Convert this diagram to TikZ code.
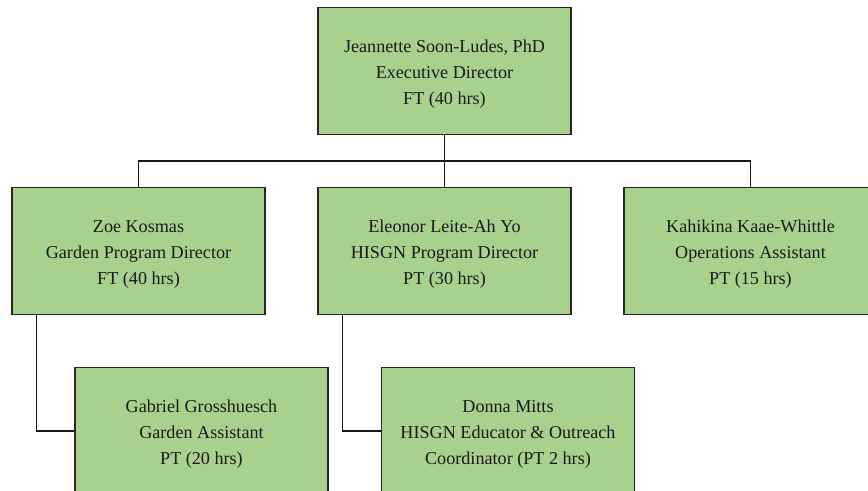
\documentclass[tikz,border=0pt]{standalone}
\usepackage{fontspec}
\setmainfont{Liberation Serif}
\usetikzlibrary{positioning}
\definecolor{boxgreen}{HTML}{A9D18E}
\tikzset{>=stealth}

\begin{document}
\begin{tikzpicture}[x=0.75pt,y=-0.75pt,
    role/.style={draw=black!85,line width=1.1pt,fill=boxgreen,text=black!90,
      minimum width=189.75pt,minimum height=95pt,inner sep=0pt,align=center,
      text height=52.8pt,font=\fontsize{13.6}{19.5}\selectfont},
    link/.style={draw=black!90,line width=1.1pt}]
\useasboundingbox (0,0) rectangle (868,491);
\clip (0,0) rectangle (868,491);
    % staff boxes
    \node[role] (ed) at (444.5,71) {Jeannette Soon-Ludes, PhD\\Executive Director\\FT (40 hrs)};
    \node[role] (zk) at (138.5,251) {Zoe Kosmas\\Garden Program Director\\FT (40 hrs)};
    \node[role] (el) at (444.5,251) {Eleonor Leite-Ah Yo\\HISGN Program Director\\PT (30 hrs)};
    \node[role] (kk) at (750.5,251) {Kahikina Kaae-Whittle\\Operations Assistant\\PT (15 hrs)};
    \node[role] (gg) at (201.5,431) {Gabriel Grosshuesch\\Garden Assistant\\PT (20 hrs)};
    \node[role] (dm) at (508,431) {Donna Mitts\\HISGN Educator \& Outreach\\Coordinator (PT 2 hrs)};
    % reporting lines
    \coordinate (bus) at (444.5,161);
    \draw[link] (ed.south) -- (el.north);
    \draw[link] (zk.north) |- (bus) -| (kk.north);
    \draw[link] ([xshift=18.75pt]zk.south west) |- (gg.west);
    \draw[link] ([xshift=18.75pt]el.south west) |- (dm.west);
\end{tikzpicture}
\end{document}
